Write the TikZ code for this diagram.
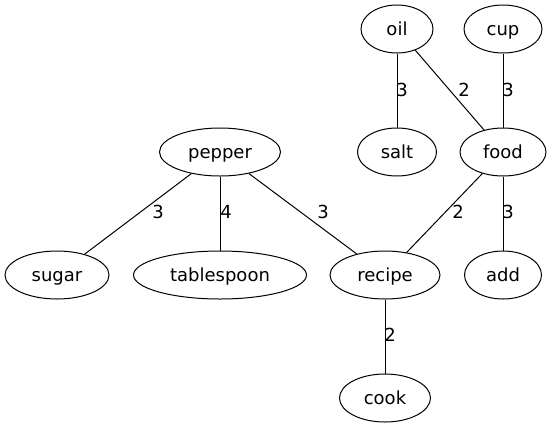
\documentclass[tikz,border=0pt]{standalone}
\usepackage{fontspec}
\setmainfont{DejaVu Sans}
\usetikzlibrary{shapes.geometric}
\begin{document}
\begin{tikzpicture}[x=1pt,y=-1pt,
  vert/.style={draw,ellipse,inner sep=0pt,minimum height=48pt,line width=1pt,text height=14pt,text depth=2pt,font=\fontsize{18}{20}\selectfont},
  wlab/.style={inner sep=0pt,font=\fontsize{18}{20}\selectfont},
  edge/.style={line width=1pt}]
\useasboundingbox (0,0) rectangle (551,429);
\node[vert,minimum width=72pt] (oil) at (397,29) {oil};
\node[vert,minimum width=78pt] (cup) at (503,29) {cup};
\node[vert,minimum width=79pt] (salt) at (397,152) {salt};
\node[vert,minimum width=86pt] (food) at (503,152) {food};
\node[vert,minimum width=121pt] (pepper) at (220,152) {pepper};
\node[vert,minimum width=104pt] (sugar) at (57,275) {sugar};
\node[vert,minimum width=173pt] (tablespoon) at (220,275) {tablespoon};
\node[vert,minimum width=110pt] (recipe) at (385,275) {recipe};
\node[vert,minimum width=77pt] (add) at (503,275) {add};
\node[vert,minimum width=91pt] (cook) at (385,398) {cook};
\draw[edge] (oil) -- (salt);
\draw[edge] (oil) -- (food);
\draw[edge] (cup) -- (food);
\draw[edge] (pepper) -- (sugar);
\draw[edge] (pepper) -- (tablespoon);
\draw[edge] (pepper) -- (recipe);
\draw[edge] (food) -- (recipe);
\draw[edge] (food) -- (add);
\draw[edge] (recipe) -- (cook);
\node[wlab] (l1) at (402,90) {3};
\node[wlab] (l2) at (464,90) {2};
\node[wlab] (l3) at (508,90) {3};
\node[wlab] (l4) at (158,212) {3};
\node[wlab] (l5) at (226,212) {4};
\node[wlab] (l6) at (323,212) {3};
\node[wlab] (l7) at (458,212) {2};
\node[wlab] (l8) at (508,212) {3};
\node[wlab] (l9) at (390,335) {2};
\end{tikzpicture}
\end{document}
